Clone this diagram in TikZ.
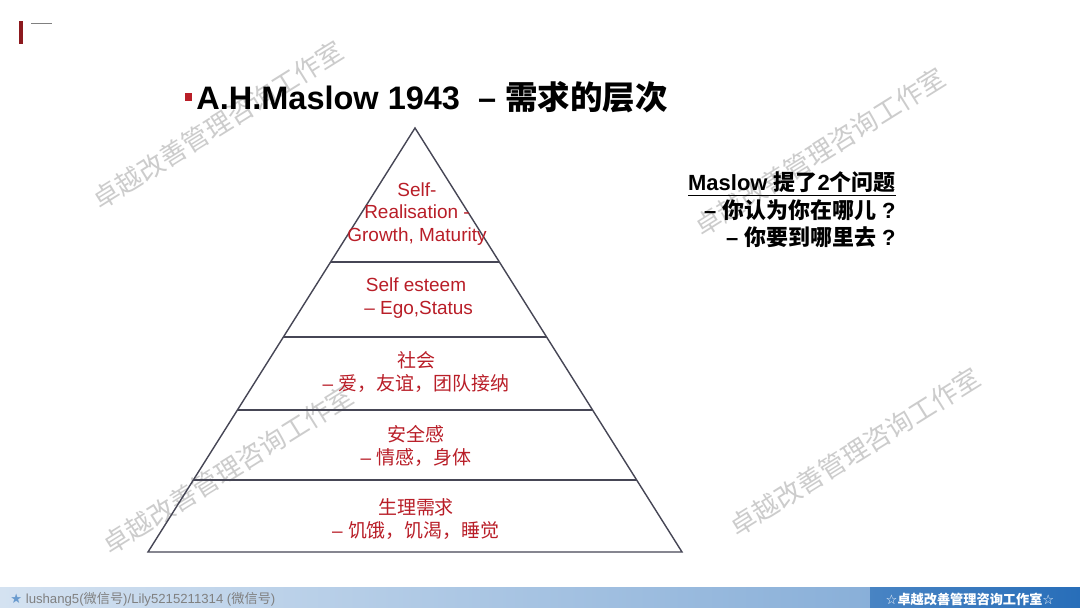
\documentclass[tikz,border=0pt]{standalone}
\usepackage{fontspec}
\setmainfont{Liberation Sans}
\newfontfamily\cjk{Noto Sans CJK SC}
\newfontfamily\symfont{DejaVu Sans}
\usetikzlibrary{positioning}
\definecolor{lvlred}{RGB}{185,30,40}
\definecolor{lvlline}{RGB}{70,70,85}
\definecolor{barred}{RGB}{140,25,30}
\definecolor{footblue}{RGB}{40,110,185}
\tikzset{
  lvltext/.style={text=lvlred, font=\fontsize{10.8}{13}\selectfont, align=center, inner sep=0pt},
  qtext/.style={font=\bfseries\fontsize{12.5}{15}\selectfont, anchor=east, inner sep=0pt},
  wmark/.style={text=gray!40, font=\cjk\fontsize{15}{18}\selectfont, rotate=32, inner sep=0pt}
}
\begin{document}
\begin{tikzpicture}[x=0.02cm, y=-0.02cm]
    \useasboundingbox (0,0) rectangle (1080,608);
    \fill[white] (0,0) rectangle (1080,608);
    % Corner mark
    \fill[barred] (19,21) rectangle (23,44);
    \draw[gray, line width=0.4pt] (31,23) -- (52,23);
    % Watermarks
    \node[wmark] (wm1) at (218,125) {卓越改善管理咨询工作室};
    \node[wmark] (wm2) at (820,152) {卓越改善管理咨询工作室};
    \node[wmark] (wm3) at (228,470) {卓越改善管理咨询工作室};
    \node[wmark] (wm4) at (855,452) {卓越改善管理咨询工作室};
    % Title
    \fill[lvlred] (185,93) rectangle (192,101);
    \node[anchor=west, inner sep=0pt, font=\bfseries\fontsize{18.5}{21}\selectfont] (title) at (196,97)
        {A.H.Maslow 1943 \ – {\cjk\bfseries 需求的层次}};
    % Draw pyramid
    \coordinate (apex) at (415,128);
    \draw[lvlline, line width=0.8pt] (apex) -- (148,552) -- (682,552) -- cycle;
    \foreach \yy in {262,337,410,480} {
        \pgfmathsetmacro{\dx}{0.6297*(\yy-128)}
        \draw[lvlline, line width=0.8pt] (415-\dx,\yy) -- (415+\dx,\yy);
    }
    % Levels
    \node[lvltext] (self) at (417,214) {Self-\\Realisation -\\Growth, Maturity};
    \node[lvltext] (esteem) at (416,298) {Self esteem\\\ – Ego,Status};
    \node[lvltext] (social) at (416,372) {{\cjk 社会}\\– {\cjk 爱，友谊，团队接纳}};
    \node[lvltext] (safety) at (416,446) {{\cjk 安全感}\\– {\cjk 情感，身体}};
    \node[lvltext] (physio) at (416,519) {{\cjk 生理需求}\\– {\cjk 饥饿，饥渴，睡觉}};
    % Questions
    \node[qtext] (q0) at (896,184) {\underline{Maslow {\cjk\bfseries 提了}2{\cjk\bfseries 个问题}}};
    \node[qtext] (q1) at (896,210) {– {\cjk\bfseries 你认为你在哪儿} ?};
    \node[qtext] (q2) at (896,237) {– {\cjk\bfseries 你要到哪里去} ?};
    % Footer
    \shade[left color=footblue!20, right color=footblue!55] (0,587) rectangle (870,608);
    \shade[left color=footblue!85, right color=footblue] (870,587) rectangle (1080,608);
    \node[anchor=west, inner sep=0pt, text=gray, font=\fontsize{7.5}{9}\selectfont] (foot1) at (10,599)
        {{\symfont\color{footblue!70}★} lushang5({\cjk 微信号})/Lily5215211314 ({\cjk 微信号})};
    \node[inner sep=0pt, text=white, font=\cjk\bfseries\fontsize{7.5}{9}\selectfont] (foot2) at (970,599)
        {{\symfont ☆}卓越改善管理咨询工作室{\symfont ☆}};
\end{tikzpicture}
\end{document}
